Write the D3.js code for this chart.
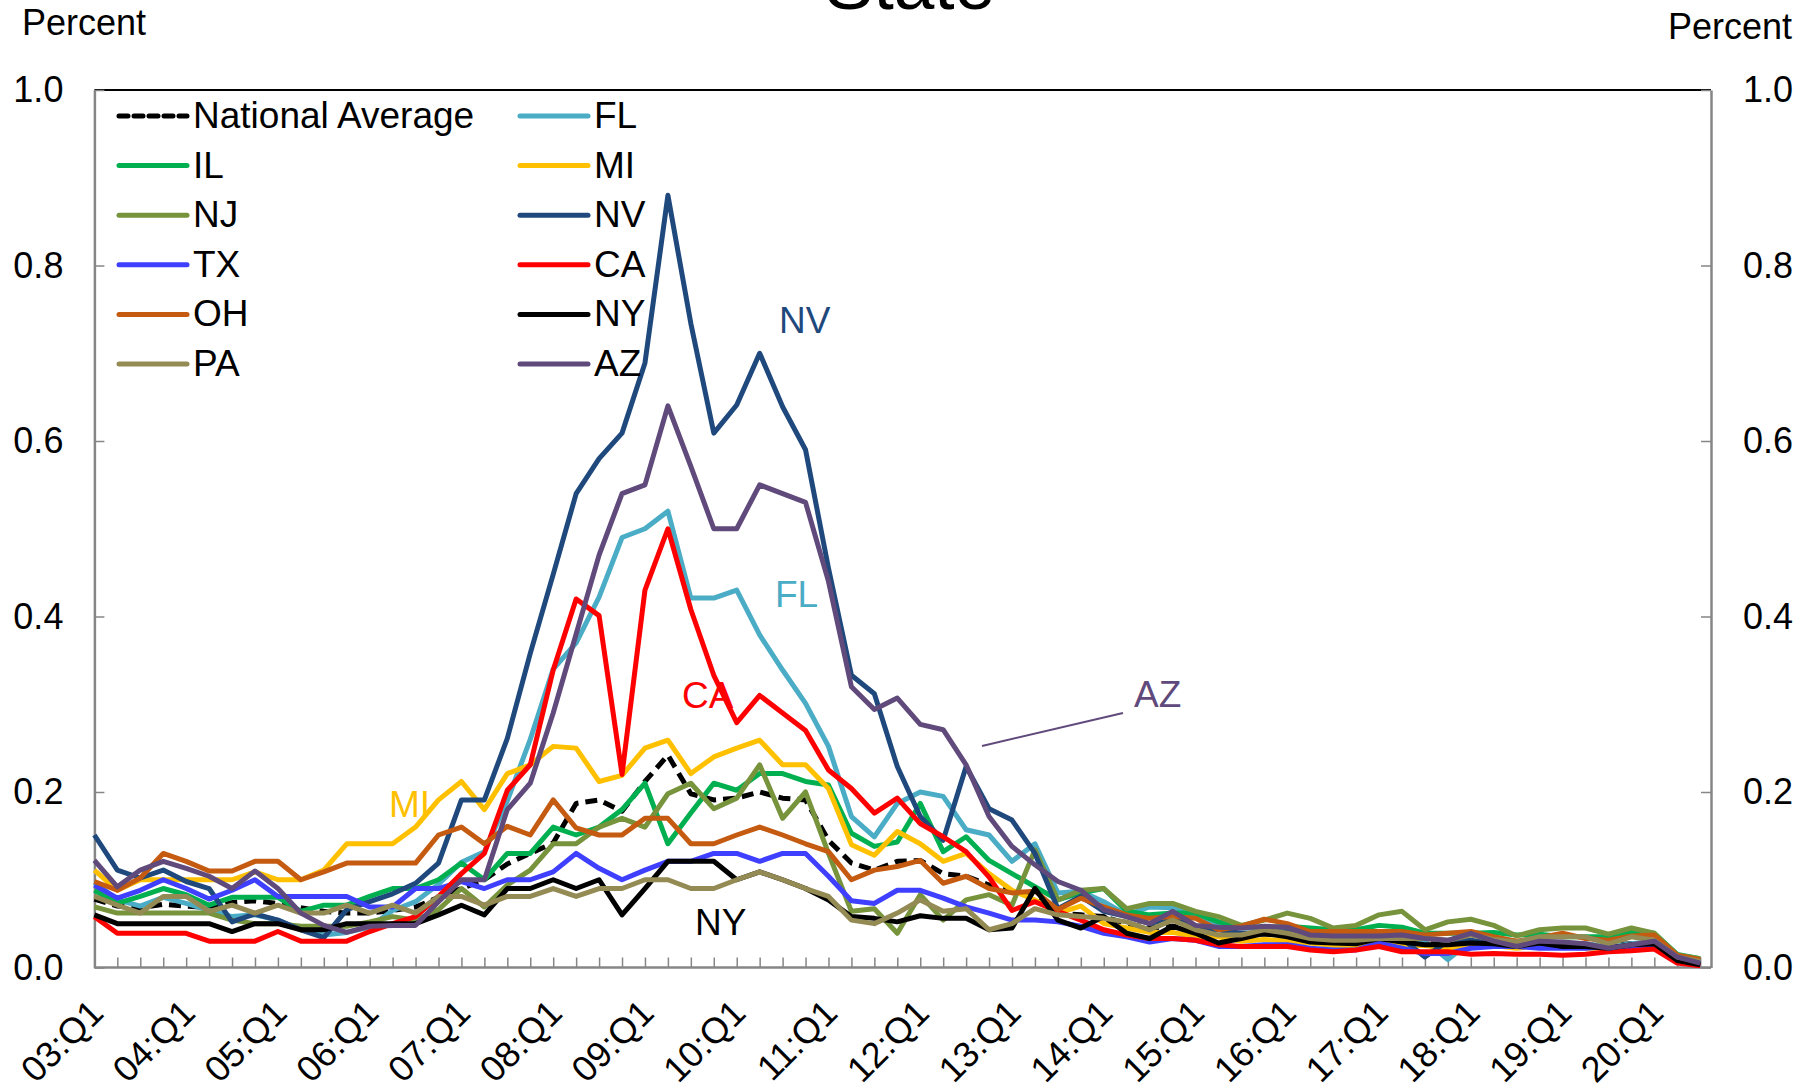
<!DOCTYPE html>
<html>
<head>
<meta charset="utf-8">
<script src="https://cdn.jsdelivr.net/npm/d3@7"></script>
<style>
body { margin: 0; background: #fff; }
svg text { font-family: "Liberation Sans", Arial, sans-serif; }
</style>
</head>
<body>
<div id="chart"></div>
<script>
// quarterly categories, 03:Q1 .. 20:Q3
var years = ["03","04","05","06","07","08","09","10","11","12","13","14","15","16","17","18","19","20"];
var quarterNames = ["Q1","Q2","Q3","Q4"];
var categories = [];
years.forEach(function(yy) { quarterNames.forEach(function(q) { categories.push(yy + ":" + q); }); });
categories = categories.slice(0, 71);
var tickLabels = ["03:Q1","04:Q1","05:Q1","06:Q1","07:Q1","08:Q1","09:Q1","10:Q1","11:Q1","12:Q1","13:Q1","14:Q1","15:Q1","16:Q1","17:Q1","18:Q1","19:Q1","20:Q1"];
var yTicks = [0, 0.2, 0.4, 0.6, 0.8, 1.0];

var national = [0.078,0.070,0.068,0.072,0.070,0.068,0.074,0.076,0.073,0.068,0.064,0.062,0.062,0.065,0.069,0.080,0.090,0.100,0.118,0.130,0.142,0.187,0.191,0.178,0.212,0.242,0.198,0.191,0.193,0.200,0.193,0.191,0.145,0.119,0.111,0.121,0.122,0.107,0.104,0.094,0.086,0.081,0.062,0.060,0.058,0.050,0.045,0.047,0.042,0.040,0.038,0.038,0.037,0.034,0.032,0.031,0.031,0.030,0.028,0.027,0.028,0.027,0.025,0.027,0.026,0.025,0.026,0.027,0.028,0.008,0.004];
var FL = [0.097,0.077,0.070,0.080,0.073,0.065,0.058,0.060,0.054,0.043,0.037,0.040,0.046,0.065,0.075,0.095,0.120,0.132,0.190,0.260,0.340,0.370,0.422,0.490,0.500,0.520,0.421,0.421,0.430,0.379,0.339,0.301,0.252,0.172,0.149,0.187,0.200,0.195,0.157,0.151,0.121,0.141,0.085,0.087,0.075,0.060,0.069,0.068,0.058,0.050,0.045,0.045,0.046,0.040,0.037,0.037,0.038,0.035,0.030,0.009,0.030,0.030,0.025,0.030,0.028,0.027,0.023,0.027,0.030,0.010,0.004];
var IL = [0.088,0.073,0.081,0.090,0.083,0.071,0.080,0.080,0.080,0.064,0.071,0.071,0.081,0.090,0.090,0.100,0.119,0.100,0.130,0.130,0.160,0.151,0.160,0.180,0.210,0.141,0.176,0.210,0.202,0.221,0.221,0.212,0.208,0.153,0.138,0.143,0.187,0.132,0.149,0.122,0.107,0.092,0.077,0.085,0.090,0.064,0.060,0.062,0.062,0.052,0.047,0.045,0.047,0.045,0.043,0.043,0.048,0.046,0.039,0.039,0.039,0.040,0.037,0.038,0.035,0.035,0.035,0.041,0.039,0.015,0.010];
var MI = [0.111,0.088,0.100,0.100,0.100,0.100,0.100,0.109,0.100,0.100,0.111,0.141,0.141,0.141,0.160,0.191,0.212,0.180,0.221,0.231,0.252,0.250,0.212,0.219,0.250,0.259,0.221,0.240,0.250,0.259,0.231,0.231,0.204,0.140,0.128,0.155,0.141,0.121,0.130,0.107,0.088,0.077,0.062,0.070,0.050,0.045,0.040,0.040,0.035,0.035,0.030,0.032,0.030,0.028,0.025,0.025,0.027,0.025,0.025,0.022,0.025,0.025,0.022,0.025,0.024,0.022,0.022,0.025,0.028,0.008,0.004];
var NJ = [0.069,0.062,0.062,0.062,0.062,0.062,0.054,0.050,0.050,0.047,0.047,0.047,0.052,0.058,0.054,0.066,0.090,0.069,0.094,0.111,0.141,0.141,0.160,0.170,0.160,0.198,0.210,0.181,0.193,0.231,0.170,0.200,0.130,0.064,0.067,0.039,0.083,0.054,0.077,0.083,0.071,0.134,0.077,0.088,0.090,0.067,0.073,0.073,0.064,0.058,0.048,0.054,0.062,0.056,0.045,0.048,0.060,0.064,0.043,0.052,0.055,0.048,0.036,0.043,0.045,0.045,0.038,0.045,0.039,0.014,0.010];
var NV = [0.151,0.111,0.102,0.111,0.098,0.090,0.052,0.061,0.054,0.043,0.034,0.066,0.075,0.084,0.096,0.119,0.191,0.191,0.261,0.358,0.448,0.540,0.580,0.609,0.689,0.880,0.734,0.609,0.641,0.700,0.639,0.590,0.455,0.333,0.312,0.229,0.172,0.145,0.229,0.181,0.168,0.130,0.067,0.081,0.064,0.058,0.050,0.056,0.047,0.043,0.039,0.039,0.041,0.033,0.031,0.031,0.035,0.033,0.012,0.030,0.031,0.027,0.024,0.028,0.027,0.026,0.022,0.025,0.028,0.010,0.004];
var TX = [0.094,0.079,0.088,0.100,0.090,0.078,0.088,0.100,0.081,0.081,0.081,0.081,0.069,0.069,0.090,0.090,0.098,0.090,0.100,0.100,0.109,0.130,0.113,0.100,0.111,0.121,0.121,0.130,0.130,0.121,0.130,0.130,0.104,0.076,0.073,0.088,0.088,0.079,0.069,0.062,0.054,0.054,0.052,0.047,0.039,0.035,0.029,0.033,0.031,0.024,0.024,0.026,0.026,0.022,0.020,0.020,0.028,0.022,0.016,0.016,0.022,0.024,0.024,0.022,0.022,0.022,0.024,0.024,0.026,0.007,0.003];
var CA = [0.058,0.039,0.039,0.039,0.039,0.030,0.030,0.030,0.041,0.030,0.030,0.030,0.041,0.050,0.058,0.081,0.107,0.130,0.202,0.231,0.339,0.420,0.401,0.220,0.430,0.500,0.408,0.333,0.279,0.310,0.290,0.270,0.225,0.204,0.176,0.193,0.164,0.149,0.132,0.103,0.065,0.075,0.064,0.054,0.043,0.037,0.033,0.033,0.031,0.026,0.024,0.024,0.024,0.020,0.018,0.020,0.024,0.018,0.018,0.018,0.015,0.016,0.015,0.015,0.014,0.015,0.018,0.019,0.021,0.005,0.002];
var OH = [0.098,0.088,0.102,0.130,0.121,0.110,0.110,0.121,0.121,0.100,0.109,0.119,0.119,0.119,0.119,0.151,0.160,0.141,0.161,0.151,0.191,0.159,0.151,0.151,0.170,0.170,0.141,0.141,0.151,0.160,0.151,0.141,0.132,0.100,0.111,0.115,0.122,0.096,0.104,0.090,0.085,0.087,0.066,0.079,0.069,0.060,0.056,0.058,0.056,0.043,0.047,0.055,0.050,0.041,0.041,0.041,0.041,0.041,0.037,0.039,0.041,0.035,0.030,0.034,0.039,0.033,0.031,0.036,0.037,0.014,0.009];
var NY = [0.060,0.050,0.050,0.050,0.050,0.050,0.041,0.050,0.050,0.043,0.043,0.050,0.050,0.050,0.050,0.060,0.071,0.060,0.090,0.090,0.100,0.090,0.100,0.060,0.090,0.121,0.121,0.121,0.100,0.109,0.100,0.090,0.077,0.058,0.056,0.052,0.059,0.056,0.056,0.043,0.045,0.090,0.054,0.045,0.058,0.039,0.033,0.047,0.039,0.028,0.033,0.039,0.035,0.029,0.028,0.027,0.033,0.029,0.026,0.026,0.028,0.027,0.024,0.028,0.024,0.024,0.022,0.026,0.027,0.008,0.003];
var PA = [0.081,0.071,0.062,0.081,0.081,0.064,0.071,0.062,0.071,0.062,0.062,0.071,0.062,0.071,0.062,0.081,0.081,0.071,0.081,0.081,0.090,0.081,0.090,0.090,0.100,0.100,0.090,0.090,0.100,0.109,0.100,0.090,0.081,0.054,0.050,0.062,0.077,0.064,0.067,0.043,0.050,0.067,0.060,0.058,0.056,0.052,0.043,0.054,0.043,0.037,0.037,0.043,0.039,0.033,0.031,0.031,0.033,0.033,0.033,0.031,0.037,0.032,0.029,0.035,0.035,0.035,0.027,0.035,0.031,0.012,0.007];
var AZ = [0.122,0.092,0.111,0.121,0.113,0.104,0.090,0.110,0.090,0.062,0.048,0.040,0.047,0.048,0.048,0.075,0.100,0.100,0.180,0.210,0.290,0.380,0.470,0.540,0.550,0.640,0.571,0.500,0.500,0.550,0.540,0.530,0.440,0.320,0.294,0.307,0.277,0.271,0.231,0.172,0.138,0.117,0.098,0.088,0.066,0.058,0.050,0.064,0.048,0.046,0.045,0.047,0.046,0.037,0.036,0.036,0.036,0.037,0.033,0.031,0.039,0.030,0.024,0.030,0.029,0.027,0.022,0.026,0.030,0.012,0.005];

// series in legend order (drawn in this order too)
var series = [
  {name: "National Average", values: national, color: "#000000", dash: true},
  {name: "FL", values: FL, color: "#4BACC6"},
  {name: "IL", values: IL, color: "#00B050"},
  {name: "MI", values: MI, color: "#FFC000"},
  {name: "NJ", values: NJ, color: "#77933C"},
  {name: "NV", values: NV, color: "#1F497D"},
  {name: "TX", values: TX, color: "#3F3FFF"},
  {name: "CA", values: CA, color: "#FF0000"},
  {name: "OH", values: OH, color: "#C55A11"},
  {name: "NY", values: NY, color: "#000000"},
  {name: "PA", values: PA, color: "#948A54"},
  {name: "AZ", values: AZ, color: "#604A7B"}
];

var width = 1817, height = 1088;
var plotLeft = 94.4, plotRight = 1711, plotTop = 90, plotBottom = 967.5;
var gray = "#868686";

var svg = d3.select("#chart").append("svg")
    .attr("width", width)
    .attr("height", height);

var x = d3.scaleLinear().domain([0, categories.length - 1]).range([plotLeft, 1700.2]);
var y = d3.scaleLinear().domain([0, 1]).range([plotBottom, plotTop]);

// title (mostly cropped at top)
svg.append("text")
    .attr("x", 910).attr("y", 9)
    .attr("text-anchor", "middle")
    .style("font-size", "73px")
    .text("State");

svg.append("text").attr("x", 22).attr("y", 35).style("font-size", "36px").text("Percent");
svg.append("text").attr("x", 1668).attr("y", 39).style("font-size", "36px").text("Percent");

// top border
svg.append("line")
    .attr("x1", plotLeft).attr("x2", plotRight).attr("y1", plotTop).attr("y2", plotTop)
    .attr("stroke", "#000").attr("stroke-width", 2);

// y axes
var yAxisL = d3.axisLeft(y).tickValues(yTicks).tickFormat(d3.format(".1f"))
    .tickSizeInner(-10).tickSizeOuter(0).tickPadding(31);
var yAxisR = d3.axisRight(y).tickValues(yTicks).tickFormat(d3.format(".1f"))
    .tickSizeInner(-10).tickSizeOuter(0).tickPadding(32);

svg.append("g").attr("class", "axis").attr("transform", "translate(" + plotLeft + ",0)").call(yAxisL);
svg.append("g").attr("class", "axis").attr("transform", "translate(" + plotRight + ",0)").call(yAxisR);

// x axis: ticks on every quarter, labels on Q1
var xAxis = d3.axisBottom(x).tickValues(d3.range(1, categories.length))
    .tickSizeInner(-10).tickSizeOuter(0).tickFormat("");
var gx = svg.append("g").attr("class", "axis").attr("transform", "translate(0," + plotBottom + ")").call(xAxis);
gx.select(".domain").remove();
svg.append("line")
    .attr("x1", plotLeft).attr("x2", plotRight).attr("y1", plotBottom).attr("y2", plotBottom)
    .attr("stroke", gray).attr("stroke-width", 2.5);

svg.selectAll(".axis .domain").attr("stroke", gray).attr("stroke-width", 2.5);
svg.selectAll(".axis .tick line").attr("stroke", gray).attr("stroke-width", 1.5);
svg.selectAll(".axis text").style("font-size", "36px").attr("fill", "#000")
    .style("font-family", "'Liberation Sans', Arial, sans-serif");

svg.selectAll("text.xlabel")
    .data(tickLabels)
    .enter()
    .append("text")
    .attr("class", "xlabel")
    .attr("text-anchor", "end")
    .attr("transform", function(d) {
        return "translate(" + (x(categories.indexOf(d)) + 11) + ",1015) rotate(-45)";
    })
    .style("font-size", "36px")
    .text(function(d) { return d; });

// lines
var line = d3.line()
    .x(function(d, i) { return x(i); })
    .y(function(d) { return y(d); });

svg.selectAll("path.series")
    .data(series)
    .enter()
    .append("path")
    .attr("class", "series")
    .attr("d", function(d) { return line(d.values); })
    .attr("fill", "none")
    .attr("stroke", function(d) { return d.color; })
    .attr("stroke-width", 5)
    .attr("stroke-linejoin", "round")
    .attr("stroke-dasharray", function(d) { return d.dash ? "12,7" : null; });

// legend: two columns, filled row by row
var legend = svg.selectAll("g.legend")
    .data(series)
    .enter()
    .append("g")
    .attr("class", "legend")
    .attr("transform", function(d, i) {
        var col = i % 2, row = Math.floor(i / 2);
        return "translate(" + (col ? 520 : 119) + "," + (116 + row * 49.6) + ")";
    });
legend.append("line")
    .attr("x1", 0).attr("x2", 68)
    .attr("stroke", function(d) { return d.color; })
    .attr("stroke-width", 5)
    .attr("stroke-linecap", "round")
    .attr("stroke-dasharray", function(d) { return d.dash ? "9,6" : null; });
legend.append("text")
    .attr("x", 74).attr("y", 12)
    .style("font-size", "37px")
    .text(function(d) { return d.name; });

// in-plot labels
var notes = [
  {text: "NV", x: 779, y: 333, color: "#1F497D"},
  {text: "FL", x: 775, y: 607, color: "#4BACC6"},
  {text: "CA", x: 682, y: 708, color: "#FF0000"},
  {text: "MI", x: 389, y: 817, color: "#FFC000"},
  {text: "NY", x: 695, y: 935, color: "#000000"},
  {text: "AZ", x: 1134, y: 707, color: "#604A7B"}
];
svg.selectAll("text.note")
    .data(notes)
    .enter()
    .append("text")
    .attr("class", "note")
    .attr("x", function(d) { return d.x; })
    .attr("y", function(d) { return d.y; })
    .attr("fill", function(d) { return d.color; })
    .style("font-size", "37px")
    .text(function(d) { return d.text; });

svg.append("line")
    .attr("x1", 982).attr("y1", 746).attr("x2", 1123).attr("y2", 713)
    .attr("stroke", "#604A7B").attr("stroke-width", 2);
</script>
</body>
</html>
